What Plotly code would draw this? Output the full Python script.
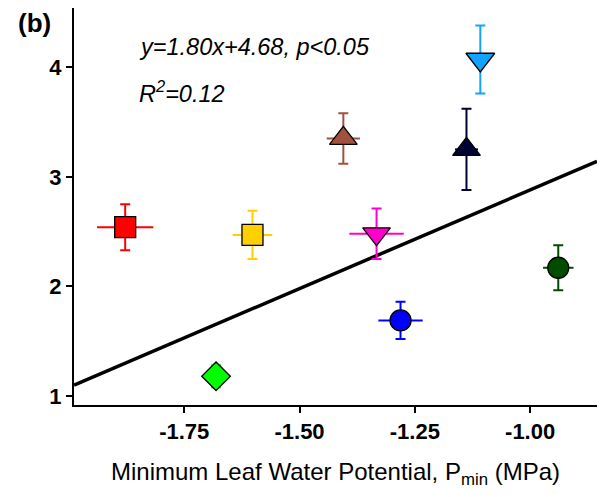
import plotly.graph_objects as go

# Species means of minimum leaf water potential (x) and response (y), with SE
pmin = [-1.878, -1.602, -1.681, -1.405, -1.333, -1.281, -1.138, -1.108, -0.939]
pmin_err = [0.061, 0.043, 0.030, 0.036, 0.059, 0.048, 0.025, 0.0, 0.033]
resp = [2.54, 2.47, 1.18, 3.35, 2.48, 1.69, 3.25, 4.07, 2.17]
resp_err = [0.21, 0.22, 0.10, 0.23, 0.23, 0.17, 0.37, 0.31, 0.205]
colors = ["#FF0000", "#FFD000", "#00FF00", "#A0523F", "#FF00CC",
          "#0000FF", "#000033", "#12A2FF", "#004D00"]
symbols = ["square", "square", "diamond", "triangle-up", "triangle-down",
           "circle", "triangle-up", "triangle-down", "circle"]
sizes = [21, 21, 22, 24, 24, 21, 24, 25, 21]

# Linear fit
slope, intercept = 1.80, 4.68
x_range = [-1.989, -0.855]
y_range = [0.918, 4.54]

fig = go.Figure()

fig.add_trace(go.Scatter(
    x=x_range,
    y=[slope * v + intercept for v in x_range],
    mode="lines",
    line=dict(color="black", width=3.5),
    showlegend=False,
    hoverinfo="skip",
))

for i in range(len(pmin)):
    fig.add_trace(go.Scatter(
        x=[pmin[i]], y=[resp[i]],
        mode="markers",
        marker=dict(symbol=symbols[i], size=sizes[i], color=colors[i],
                    line=dict(color="black", width=1.3)),
        error_y=dict(type="data", array=[resp_err[i]], color=colors[i],
                     thickness=2, width=5),
        error_x=dict(type="data", array=[pmin_err[i]], color=colors[i],
                     thickness=2, width=0),
        showlegend=False,
    ))

font_family = "Liberation Sans, Arial, sans-serif"

fig.update_layout(
    template="none",
    width=605, height=497,
    margin=dict(l=74, r=8, t=8, b=92),
    paper_bgcolor="white", plot_bgcolor="white",
    font=dict(family=font_family, color="black"),
    xaxis=dict(
        range=x_range,
        tickmode="array",
        tickvals=[-1.75, -1.50, -1.25, -1.00],
        ticktext=["-1.75", "-1.50", "-1.25", "-1.00"],
        tickfont=dict(size=22, family=font_family, weight="bold", color="black"),
        ticks="outside", ticklen=6, tickwidth=2, tickcolor="black",
        showline=True, linecolor="black", linewidth=2,
        showgrid=False, zeroline=False,
        title=dict(text="Minimum Leaf Water Potential, P<sub>min</sub> (MPa)",
                   font=dict(size=24), standoff=20),
    ),
    yaxis=dict(
        range=y_range,
        tickmode="array",
        tickvals=[1, 2, 3, 4],
        ticktext=["1", "2", "3", "4"],
        tickfont=dict(size=22, family=font_family, weight="bold", color="black"),
        ticks="outside", ticklen=6, tickwidth=2, tickcolor="black",
        showline=True, linecolor="black", linewidth=2,
        showgrid=False, zeroline=False,
    ),
    annotations=[
        dict(text="<b>(b)</b>", xref="paper", yref="paper",
             x=0, y=1.0, xanchor="center", yanchor="middle",
             xshift=-40, yshift=-15, showarrow=False,
             font=dict(size=26)),
        dict(text="<i>y=1.80x+4.68, p<0.05</i>", xref="x", yref="y",
             x=-1.852, y=4.18, xanchor="left", yanchor="middle",
             showarrow=False, font=dict(size=23.5)),
        dict(text="<i>R<sup>2</sup>=0.12</i>", xref="x", yref="y",
             x=-1.852, y=3.77, xanchor="left", yanchor="middle",
             showarrow=False, font=dict(size=23.5)),
    ],
)

fig.write_html("out.html")
